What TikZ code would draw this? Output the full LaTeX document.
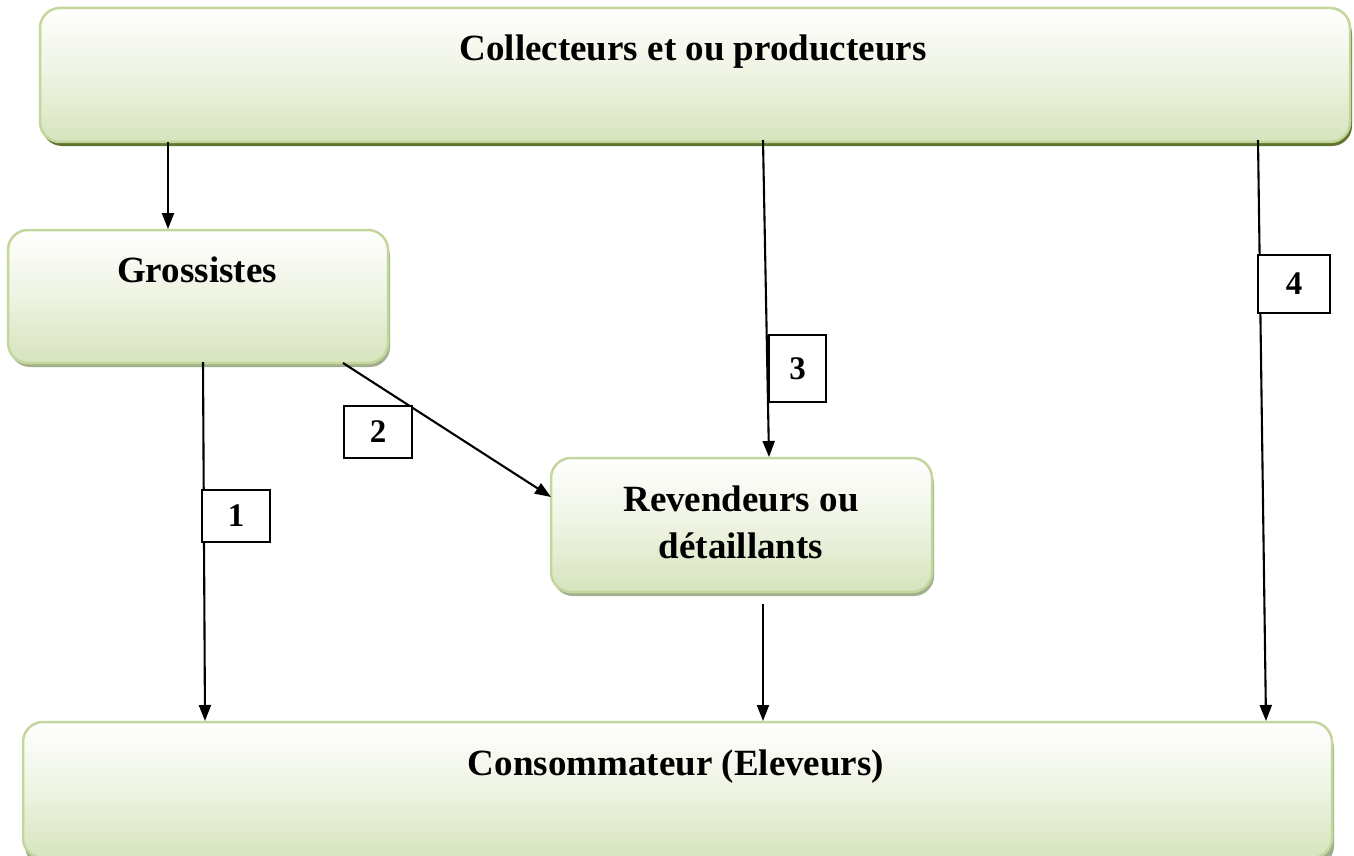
\documentclass[tikz,border=0pt]{standalone}
\usepackage{fontspec}
\setmainfont{Liberation Serif}
\usetikzlibrary{arrows.meta,calc}
\definecolor{boxborder}{HTML}{C3D69B}
\definecolor{boxbottom}{HTML}{D7E4BD}
\definecolor{boxmid}{HTML}{EEF3E2}
\definecolor{shadowdark}{HTML}{5F7530}
\definecolor{shadowlight}{HTML}{A3AE8E}
\tikzset{
  greenbox/.style={draw=boxborder, line width=2.5pt, rounded corners=20pt,
    top color=white, bottom color=boxbottom, middle color=boxmid,
    minimum width=#1, inner sep=0pt},
  boxshadow/.style={fill=#1, rounded corners=20pt, draw=none},
  lbl/.style={font=\fontsize{37}{47}\selectfont\bfseries, anchor=base, align=center},
  numbox/.style={draw=black, line width=1.4pt, fill=white, inner sep=0pt,
    font=\fontsize{33}{33}\selectfont\bfseries},
  arr/.style={draw=black, line width=2.1pt, -{Triangle[length=16pt,width=12pt]}},
}
\begin{document}
\begin{tikzpicture}[x=1pt,y=1pt]
\useasboundingbox (0,0) rectangle (1354,-856);
% shadows
\fill[boxshadow=shadowdark] (42,-14) rectangle (1352,-146);
\fill[boxshadow=shadowlight] (10,-236) rectangle (390,-367);
\fill[boxshadow=shadowlight] (553,-464) rectangle (934,-596);
\fill[boxshadow=shadowlight] (25,-728) rectangle (1334,-866);
% boxes
\node[greenbox=1310pt, minimum height=134pt] (top) at (695,-75) {};
\node[greenbox=380pt, minimum height=133pt] (gros) at (198,-296.5) {};
\node[greenbox=381pt, minimum height=134pt] (rev) at (741.5,-525) {};
\node[greenbox=1309pt, minimum height=136pt] (cons) at (677.5,-790) {};
% texts
\node[lbl] (ttop) at (693,-61) {Collecteurs et ou producteurs};
\node[lbl] (tgros) at (197,-282) {Grossistes};
\node[lbl] (trev) at (741,-558) {Revendeurs ou\\détaillants};
\node[lbl] (tcons) at (676,-775) {Consommateur (Eleveurs)};
% connector endpoints
\coordinate (a0) at (168,-142);  \coordinate (a1) at (168,-229);
\coordinate (b0) at (203,-362);  \coordinate (b1) at (205,-721);
\coordinate (c0) at (343,-363);  \coordinate (c1) at (551,-497);
\coordinate (d0) at (763,-140);  \coordinate (d1) at (769,-457);
\coordinate (e0) at (763,-604);  \coordinate (e1) at (763,-721);
\coordinate (f0) at (1258,-140); \coordinate (f1) at (1266,-721);
\draw[arr] (a0) -- (a1);
\draw[arr] (b0) -- (b1);
\draw[arr] (c0) -- (c1);
\draw[arr] (d0) -- (d1);
\draw[arr] (e0) -- (e1);
\draw[arr] (f0) -- (f1);
% number labels
\node[numbox, minimum width=68pt, minimum height=52pt] (n1) at (236,-516) {1};
\node[numbox, minimum width=68pt, minimum height=52pt] (n2) at (378,-432) {2};
\node[numbox, minimum width=57pt, minimum height=67pt] (n3) at (797.5,-368.5) {3};
\node[numbox, minimum width=72pt, minimum height=58pt] (n4) at (1294,-284) {4};
\end{tikzpicture}
\end{document}
